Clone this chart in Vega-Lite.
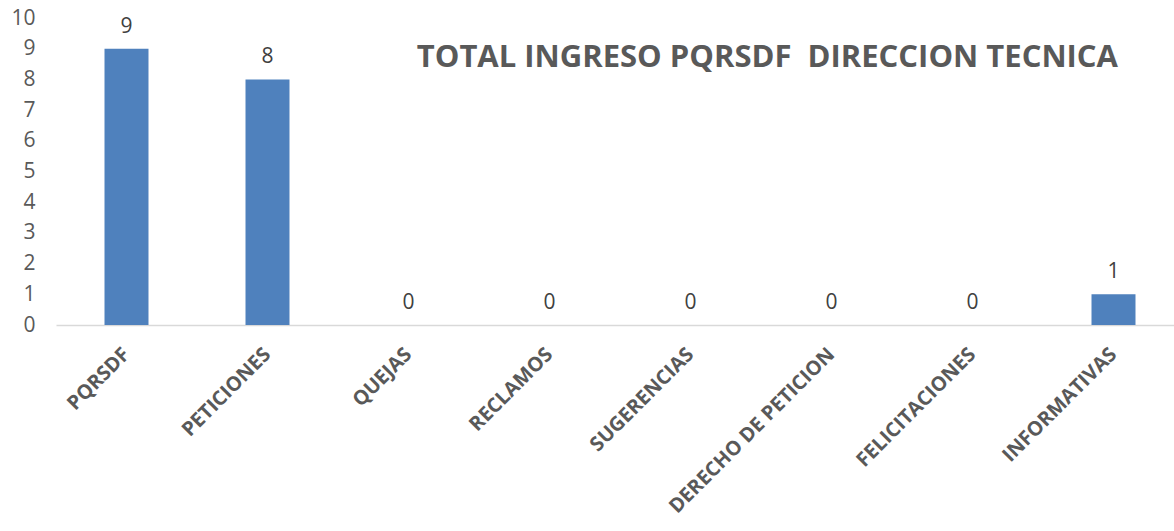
{
  "$schema": "https://vega.github.io/schema/vega-lite/v6.json",
  "autosize": "none",
  "width": 1128,
  "height": 307,
  "padding": {"left": 56, "top": 18, "right": 0, "bottom": 206},
  "background": "white",
  "title": {
    "text": "TOTAL INGRESO PQRSDF\u00a0\u00a0DIRECCION TECNICA",
    "anchor": "end",
    "orient": "top",
    "baseline": "middle",
    "dx": -66,
    "dy": 82,
    "offset": 0,
    "font": "Open Sans",
    "fontSize": 31,
    "fontWeight": "bold",
    "color": "#595959"
  },
  "data": {
    "values": [
      {"categoria": "PQRSDF", "total": 9},
      {"categoria": "PETICIONES", "total": 8},
      {"categoria": "QUEJAS", "total": 0},
      {"categoria": "RECLAMOS", "total": 0},
      {"categoria": "SUGERENCIAS", "total": 0},
      {"categoria": "DERECHO DE PETICION", "total": 0},
      {"categoria": "FELICITACIONES", "total": 0},
      {"categoria": "INFORMATIVAS", "total": 1}
    ]
  },
  "encoding": {
    "x": {
      "field": "categoria",
      "type": "nominal",
      "sort": null,
      "scale": {"paddingInner": 0.688, "paddingOuter": 0.344},
      "axis": {
        "title": null,
        "labelAngle": -45,
        "labelAlign": "right",
        "labelBaseline": "middle",
        "labelPadding": 26,
        "labelFont": "Open Sans",
        "labelFontSize": 20,
        "labelFontWeight": "bold",
        "labelColor": "#595959",
        "labelLimit": 400,
        "ticks": false,
        "domainColor": "#d9d9d9",
        "domainWidth": 1.5
      }
    },
    "y": {
      "field": "total",
      "type": "quantitative",
      "scale": {"domain": [0, 10], "nice": false},
      "axis": {
        "title": null,
        "values": [0, 1, 2, 3, 4, 5, 6, 7, 8, 9, 10],
        "grid": false,
        "domain": false,
        "ticks": false,
        "labelFont": "Open Sans",
        "labelFontSize": 21,
        "labelColor": "#595959",
        "labelPadding": 21
      }
    }
  },
  "layer": [
    {"mark": {"type": "bar", "color": "#4f81bd"}},
    {
      "mark": {
        "type": "text",
        "baseline": "bottom",
        "dy": -12,
        "font": "Open Sans",
        "fontSize": 21,
        "color": "#404040"
      },
      "encoding": {"text": {"field": "total", "type": "quantitative"}}
    }
  ],
  "config": {"view": {"stroke": null}}
}
